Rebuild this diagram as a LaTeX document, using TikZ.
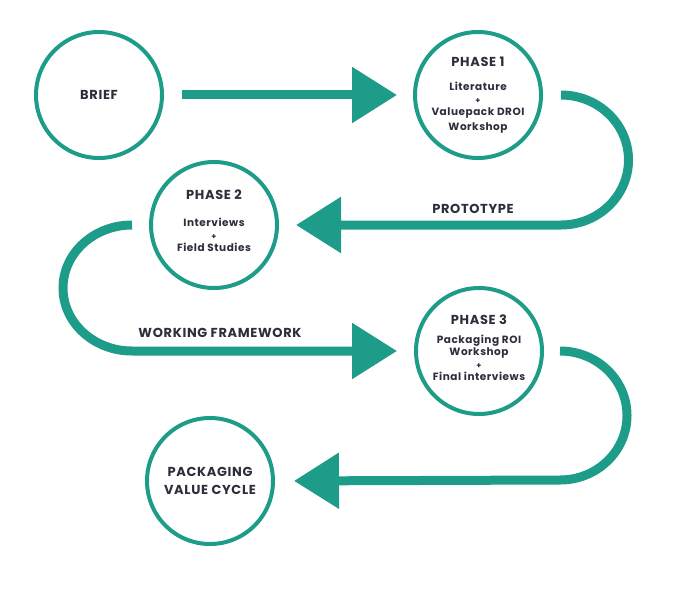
\documentclass[tikz,border=0pt]{standalone}
\usepackage{fontspec}
\setmainfont{Poppins}[LetterSpace=5]
\usetikzlibrary{arrows.meta}
\definecolor{tealc}{RGB}{30,156,138}
\definecolor{ink}{RGB}{45,45,60}
\newcommand\hdfont{\bfseries\fontsize{13}{16}\selectfont}
\newcommand\bdfont{\bfseries\fontsize{10.5}{12.5}\selectfont}
\newcommand\plusfont{\bfseries\fontsize{8}{12.5}\selectfont}
\begin{document}
\begin{tikzpicture}[x=1pt,y=1pt,
  stage/.style={circle, draw=tealc, line width=4pt, minimum size=126pt, inner sep=0pt, align=center, text=ink, font=\bdfont},
  flow/.style={draw=tealc, line width=9pt, -{Triangle[length=45pt,width=54pt]}},
  lbl/.style={text=ink, font=\hdfont}
]
\useasboundingbox (0,0) rectangle (676,-599);
\node[stage] (brief) at (99,-95) {\hdfont BRIEF};
\node[stage] (p1) at (478,-95) {{\hdfont PHASE 1}\\[12pt]Literature\\{\plusfont +}\\Valuepack DROI\\[2pt]Workshop};
\node[stage] (p2) at (214,-225) {{\hdfont PHASE 2}\\[15pt]Interviews\\{\plusfont +}\\Field Studies\\[-4pt]\mbox{}};
\node[stage] (p3) at (479,-351) {{\hdfont PHASE 3}\\[6pt]Packaging ROI\\Workshop\\{\plusfont +}\\Final interviews\\[-6pt]\mbox{}};
\node[stage] (cyc) at (210,-481) {{\hdfont PACKAGING}\\[6pt]{\hdfont VALUE CYCLE}};
\draw[flow, shorten <=18pt, shorten >=16pt] (brief.east) -- (p1.west);
\draw[flow, shorten >=17pt] ([xshift=18pt]p1.east) arc[start angle=90, end angle=-90, x radius=67.5pt, y radius=65pt] -- (p2.east);
\draw[flow, shorten >=17pt] ([xshift=-17pt]p2.west) arc[start angle=90, end angle=270, x radius=69pt, y radius=63pt] -- (p3.west);
\draw[flow, shorten >=19pt] ([xshift=16pt]p3.east) arc[start angle=90, end angle=-90, x radius=67pt, y radius=64.5pt] -- (cyc.east);
\node[lbl] (proto) at (473,-209) {PROTOTYPE};
\node[lbl] (wf) at (220,-333) {WORKING FRAMEWORK};
\end{tikzpicture}
\end{document}
